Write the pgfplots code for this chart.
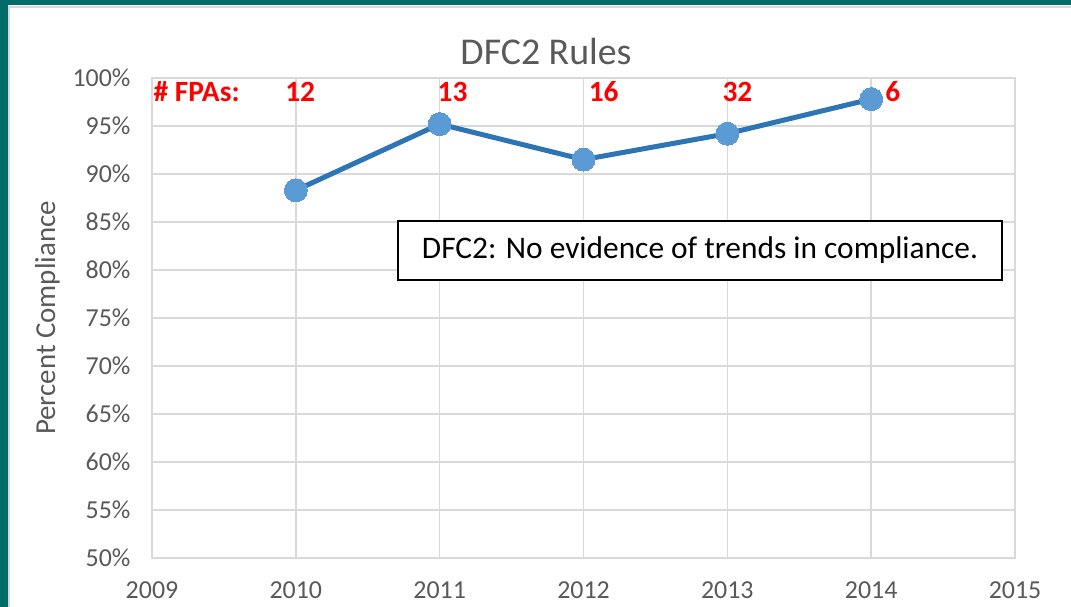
\documentclass[border=0pt]{standalone}
\usepackage{pgfplots}
\pgfplotsset{compat=1.18}
\usepackage{fontspec}
\setmainfont{Carlito}
\definecolor{frameteal}{RGB}{0,108,104}
\definecolor{gridgray}{RGB}{217,217,217}
\definecolor{ticktext}{RGB}{89,89,89}
\definecolor{lineblue}{RGB}{46,117,182}
\definecolor{markblue}{RGB}{91,155,213}
\begin{document}
\begin{tikzpicture}[x=1bp,y=1bp]
\path[use as bounding box] (0,0) rectangle (1071,607);
\fill[white] (0,0) rectangle (1071,607);
\fill[frameteal] (0,0) rectangle (8,607);
\fill[frameteal] (0,602) rectangle (1071,607);
\draw[gridgray,line width=2bp] (9,0) -- (9,600) -- (1071,600);
\node[font=\fontsize{38}{44}\selectfont,text=ticktext,anchor=base] at (546,542) {DFC2 Rules};
\begin{axis}[
  anchor=south west, at={(152bp,49bp)},
  width=863bp, height=480bp, scale only axis,
  xmin=2009, xmax=2015, ymin=50, ymax=100,
  xtick={2009,2010,2011,2012,2013,2014,2015},
  xticklabels={2009,2010,2011,2012,2013,2014,2015},
  ytick={50,55,60,65,70,75,80,85,90,95,100},
  yticklabels={50\%,55\%,60\%,65\%,70\%,75\%,80\%,85\%,90\%,95\%,100\%},
  tick style={draw=none},
  grid=major,
  major grid style={draw=gridgray,line width=1.5bp},
  axis line style={draw=gridgray,line width=1.5bp},
  ticklabel style={font=\fontsize{26}{30}\selectfont,text=ticktext},
  xticklabel style={yshift=-20bp},
  yticklabel style={xshift=-18bp},
  ylabel={Percent Compliance},
  ylabel style={font=\fontsize{29}{34}\selectfont,text=ticktext,yshift=6bp},
  clip=false,
]
\addplot[lineblue,line width=5bp,mark=*,mark size=11.5bp,mark options={fill=markblue,draw=markblue,line width=0pt}]
  coordinates {(2010,88.3) (2011,95.2) (2012,91.5) (2013,94.2) (2014,97.8)};
\begin{scope}[every node/.style={font=\fontsize{29.5}{32}\selectfont\bfseries,text=red,anchor=base}]
\node at (axis cs:2009.31,97.5) {\# FPAs:};
\node at (axis cs:2010.03,97.5) {12};
\node at (axis cs:2011.09,97.5) {13};
\node at (axis cs:2012.14,97.5) {16};
\node at (axis cs:2013.07,97.5) {32};
\node at (axis cs:2014.15,97.5) {6};
\end{scope}
\node[draw=black,line width=2bp,fill=white,minimum width=604bp,minimum height=59bp,inner sep=0pt,font=\fontsize{31.5}{36}\selectfont]
  at (axis cs:2012.81,82.07) {DFC2: No evidence of trends in compliance.};
\end{axis}
\end{tikzpicture}
\end{document}
